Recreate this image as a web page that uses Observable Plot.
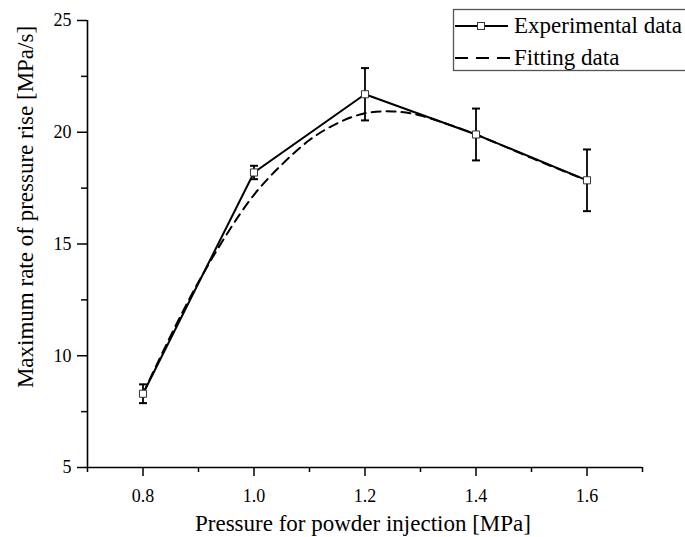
<!DOCTYPE html>
<html><head><meta charset="utf-8">
<script src="https://cdn.jsdelivr.net/npm/d3@7"></script>
<script src="https://cdn.jsdelivr.net/npm/@observablehq/plot@0.6"></script>
<style>
html,body{margin:0;padding:0;background:#fff;}
#wrap{position:relative;width:685px;height:537px;overflow:hidden;font-family:'Liberation Serif','Times New Roman',serif;}
#wrap svg, #wrap svg text{font-family:'Liberation Serif','Times New Roman',serif !important;font-variant-numeric:normal !important;}
</style></head><body><div id="wrap"></div>
<script>
const pressure = [0.8, 1.0, 1.2, 1.4, 1.6];
const rateExp = [8.3, 18.2, 21.7, 19.9, 17.85];
const rateErr = [0.42, 0.3, 1.17, 1.16, 1.38];
const fitPressure = [0.8, 0.85, 0.9, 0.95, 1.0, 1.05, 1.1, 1.15, 1.2, 1.25, 1.3, 1.35, 1.4, 1.5, 1.6];
const fitRate = [8.3, 10.9, 13.3, 15.4, 17.2, 18.55, 19.65, 20.4, 20.85, 20.93, 20.75, 20.35, 19.9, 18.85, 17.85];
const xMajorTicks = [0.8, 1.0, 1.2, 1.4, 1.6];
const xMinorTicks = [0.7, 0.9, 1.1, 1.3, 1.5, 1.7];
const yMajorTicks = [5, 10, 15, 20, 25];
const yMinorTicks = [7.5, 12.5, 17.5, 22.5];
const xTitle = "Pressure for powder injection [MPa]";
const yTitle = "Maximum rate of pressure rise [MPa/s]";
const legendLabels = ["Experimental data", "Fitting data"];

const expData = pressure.map((p, i) => ({p, r: rateExp[i], lo: rateExp[i] - rateErr[i], hi: rateExp[i] + rateErr[i]}));
const fitData = fitPressure.map((p, i) => ({p, r: fitRate[i]}));

const capSymbol = {draw(ctx, size) { const w = Math.sqrt(size) / 2; ctx.moveTo(-w, 0); ctx.lineTo(w, 0); }};

const chart = Plot.plot({
  width: 685, height: 537,
  marginLeft: 87, marginRight: 43, marginTop: 20, marginBottom: 70,
  style: "font-family: 'Liberation Serif', 'Times New Roman', serif; font-size: 18px; color: black; background: white;",
  x: {domain: [0.7, 1.7]},
  y: {domain: [5, 25]},
  marks: [
    Plot.axisX(xMajorTicks, {tickSize: 9, tickPadding: 13, tickFormat: d3.format(".1f"), label: null, strokeWidth: 1.5, fontSize: 18}),
    Plot.axisX(xMinorTicks, {tickSize: 5, tickFormat: () => "", label: null, strokeWidth: 1.5}),
    Plot.axisY(yMajorTicks, {tickSize: 10, tickPadding: 6, label: null, strokeWidth: 1.5, fontSize: 18}),
    Plot.axisY(yMinorTicks, {tickSize: 6, tickFormat: () => "", label: null, strokeWidth: 1.5}),
    Plot.ruleY([5], {strokeWidth: 1.6}),
    Plot.ruleX([0.7], {strokeWidth: 1.6}),
    Plot.line(fitData, {x: "p", y: "r", curve: "natural", stroke: "black", strokeWidth: 2, strokeDasharray: "9,6"}),
    Plot.line(expData, {x: "p", y: "r", stroke: "black", strokeWidth: 2}),
    Plot.ruleX(expData, {x: "p", y1: "lo", y2: "hi", stroke: "black", strokeWidth: 1.8}),
    Plot.dot(expData, {x: "p", y: "hi", symbol: capSymbol, r: 4.5, fill: "none", stroke: "black", strokeWidth: 2}),
    Plot.dot(expData, {x: "p", y: "lo", symbol: capSymbol, r: 4.5, fill: "none", stroke: "black", strokeWidth: 2}),
    Plot.dot(expData, {x: "p", y: "r", symbol: "square", r: 4, fill: "white", stroke: "#333", strokeWidth: 1})
  ]
});
document.getElementById("wrap").appendChild(chart);

const svg = d3.select(chart);
const font = "'Liberation Serif','Times New Roman',serif";
svg.append("text").attr("x", 363).attr("y", 531).attr("text-anchor", "middle")
  .attr("font-size", 23).attr("font-family", font).attr("fill", "black").text(xTitle);
svg.append("text").attr("transform", "translate(33,207) rotate(-90)").attr("text-anchor", "middle")
  .attr("font-size", 23).attr("font-family", font).attr("fill", "black").text(yTitle);

const lg = svg.append("g").attr("text-anchor", "start");
lg.append("rect").attr("x", 453.5).attr("y", 9.5).attr("width", 300).attr("height", 61)
  .attr("fill", "white").attr("stroke", "#555").attr("stroke-width", 1.3);
lg.append("line").attr("x1", 455).attr("x2", 508).attr("y1", 26).attr("y2", 26).attr("stroke", "black").attr("stroke-width", 2);
lg.append("rect").attr("x", 477.5).attr("y", 22.5).attr("width", 7).attr("height", 7).attr("fill", "white").attr("stroke", "#333");
lg.append("text").attr("x", 514).attr("y", 33).attr("text-anchor", "start").attr("font-size", 23).attr("font-family", font).attr("fill", "black").text(legendLabels[0]);
lg.append("line").attr("x1", 455).attr("x2", 512).attr("y1", 58).attr("y2", 58).attr("stroke", "black").attr("stroke-width", 2.2).attr("stroke-dasharray", "13,8");
lg.append("text").attr("x", 514).attr("y", 65).attr("text-anchor", "start").attr("font-size", 23).attr("font-family", font).attr("fill", "black").text(legendLabels[1]);
</script></body></html>
